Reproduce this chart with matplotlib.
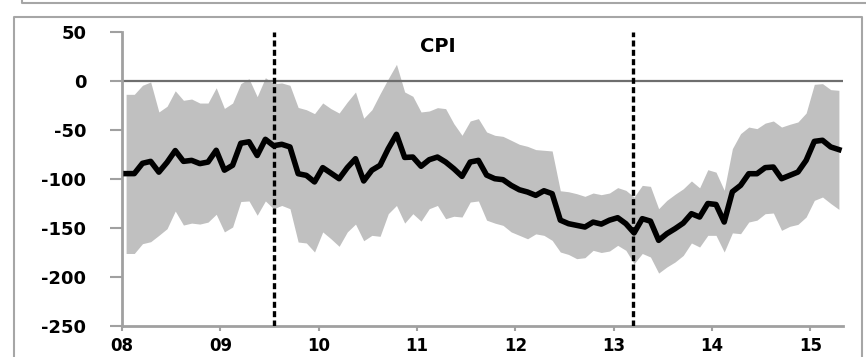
import numpy as np
import matplotlib.pyplot as plt
from matplotlib.lines import Line2D

plt.rcParams['font.family'] = 'DejaVu Sans'
plt.rcParams['axes.unicode_minus'] = False

# monthly CPI surprise index, Jan 2008 onwards: central estimate and band
cpi_mid = [-94.5, -94.5, -84, -82, -93, -83, -71, -82, -81, -84.3, -82.7, -70.7,
           -91, -86, -63.5, -62, -76, -59.5, -66, -64.6, -67.3, -94.6, -96.3, -103,
           -88.4, -94, -99.7, -88.4, -79.3, -102, -91, -86, -69, -54.4, -78, -77.6,
           -87, -80.3, -77.6, -82.7, -89.5, -97.3, -82.7, -81, -96, -99.7, -100.7, -106.5,
           -111, -113.3, -116.7, -112, -115, -142, -145.6, -147.3, -149, -144, -146, -142,
           -139.5, -145.6, -155, -140.5, -143, -162.6, -155.8, -150.7, -145, -135.4, -138.8, -125,
           -126, -143.9, -113, -106.5, -94.6, -94.6, -88.4, -87.8, -99.7, -96.3, -92.9, -81,
           -61.6, -60.5, -67.3, -70]
cpi_upper = [-13.6, -13.6, -4.4, -1, -31.6, -25.8, -10, -19.7, -18.4, -22.5, -22.5, -6.9,
             -28, -22.5, -2.7, 2.4, -16, 3.4, -2.7, -2, -4.4, -27, -29.3, -33.3,
             -22.4, -28.2, -32.7, -21.4, -11.2, -38, -29.3, -13, 2.4, 17, -11.2, -15.6,
             -31.6, -30.6, -27.2, -28.2, -43.5, -55.4, -40.8, -38.4, -52, -55.4, -56.5, -60.5,
             -64.6, -66.7, -70, -70.7, -71.4, -112, -113, -115, -117.7, -114.3, -116, -114.3,
             -108.8, -111.6, -118.4, -106.5, -107.5, -130.3, -121.8, -115.6, -110, -102, -109, -90.5,
             -93, -111.5, -69, -53.7, -47, -48.6, -43, -40.8, -47, -44.2, -41.8, -32.7,
             -3.4, -2.7, -8.8, -9.5]
cpi_lower = [-176, -176, -166, -164, -157.5, -150.7, -132.7, -147, -145, -146, -144, -136,
             -154, -149, -123, -122.4, -137, -122.4, -130.3, -127, -130.3, -164.3, -165.3, -174.5,
             -154, -161, -168.7, -154, -146, -163, -157.5, -158.5, -135.4, -127, -145, -135.4,
             -143, -130.3, -127, -140.5, -138, -138.8, -123.5, -122.4, -142, -145, -147.3, -154,
             -157.5, -161, -156, -157.5, -162.6, -174.5, -177, -181.3, -180.3, -172.8, -175, -173.5,
             -167.7, -172.8, -186.4, -176, -179.6, -196, -189.8, -184.7, -178, -165.3, -169.4, -157.5,
             -157.5, -174.5, -155, -155.8, -143.9, -142, -135.4, -134.7, -152.4, -148.3, -146.3, -138.8,
             -121.8, -118.4, -125, -131]
year_labels = ['08', '09', '10', '11', '12', '13', '14', '15']
regime_breaks = [18.5, 62.4]   # months since Jan 2008
y_ticks = [50, 0, -50, -100, -150, -200, -250]

W, H = 866, 357
fig = plt.figure(figsize=(W / 100, H / 100), dpi=100)
ax = fig.add_axes([122 / W, 1 - 326 / H, (843 - 122) / W, (326 - 32) / H])

x = np.arange(len(cpi_mid)) + 0.5
ax.fill_between(x, cpi_lower, cpi_upper, color='#c0c0c0', lw=0, zorder=1)
ax.axhline(0, color='#6e6e6e', lw=1.6, zorder=2)
for b in regime_breaks:
    ax.axvline(b, color='black', lw=2.4, linestyle=(0, (1.8, 1.0)), zorder=3)
ax.plot(x, cpi_mid, color='black', lw=4, solid_joinstyle='round', zorder=4)

ax.set_xlim(0, 88)
ax.set_ylim(-250, 50)
ax.set_xticks(np.arange(len(year_labels)) * 12)
ax.set_xticklabels(year_labels)
ax.set_yticks(y_ticks)
ax.set_yticklabels([str(v) for v in y_ticks])

for s in ['top', 'right']:
    ax.spines[s].set_visible(False)
for s in ['left', 'bottom']:
    ax.spines[s].set_color('#a0a0a0')
    ax.spines[s].set_linewidth(2)
ax.tick_params(axis='y', length=8.6, width=1.5, color='#a0a0a0', pad=17,
               labelsize=13)
ax.tick_params(axis='x', length=3.6, width=1.5, color='#a0a0a0', pad=4,
               labelsize=12)
for lab in ax.get_xticklabels() + ax.get_yticklabels():
    lab.set_fontweight('bold')

ax.text(38.5, 35.7, 'CPI', ha='center', va='center', fontsize=14,
        fontweight='bold')


# panel frames, given in pixel positions
def frame_line(xs, ys):
    fig.add_artist(Line2D([v / W for v in xs], [1 - v / H for v in ys],
                          color='#a6a6a6', lw=1.5))


frame_line([22, 22, W], [0, 3, 3])
frame_line([14, 14, 862, 862], [H, 17, 17, H])

fig.savefig('out.png', dpi=100)
